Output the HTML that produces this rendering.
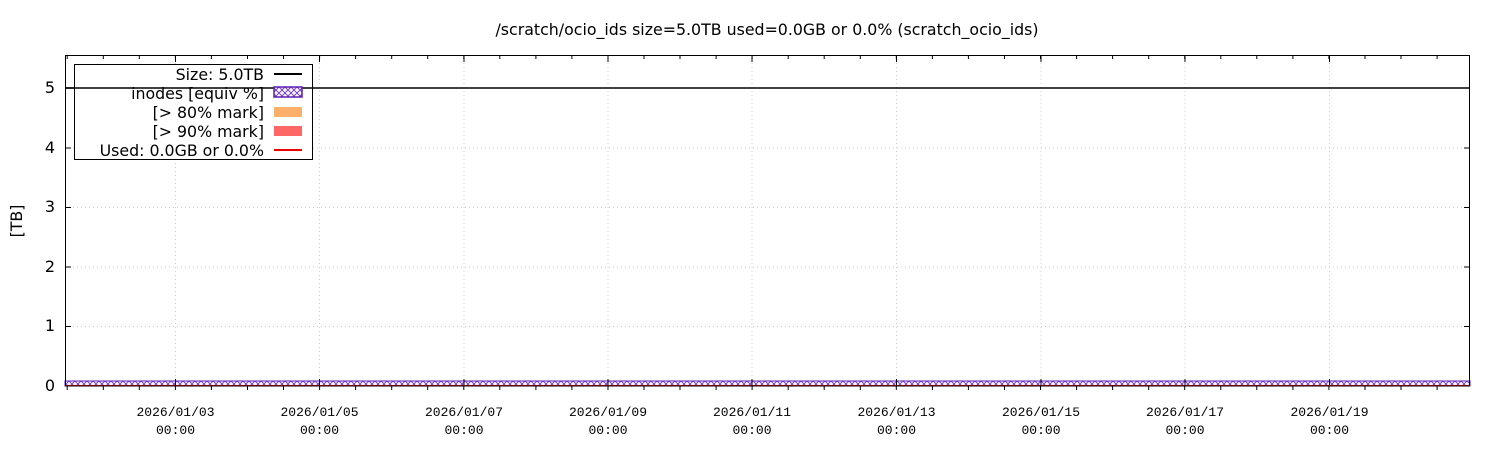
<!DOCTYPE html>
<html><head><meta charset="utf-8"><style>
body{margin:0;background:#fff;}
.s{font-family:"DejaVu Sans",sans-serif;}
.m{font-family:"Liberation Mono",monospace;}
</style></head><body>
<svg width="1500" height="450" viewBox="0 0 1500 450" xmlns="http://www.w3.org/2000/svg">
<defs>
<pattern id="hatch" width="6" height="6" patternUnits="userSpaceOnUse">
<rect width="6" height="6" fill="#fff"/>
<path d="M0,0 L6,6 M6,0 L0,6" stroke="#7b3fd0" stroke-width="1"/>
</pattern>
</defs>
<rect width="1500" height="450" fill="#fff"/>
<text class="s" x="767" y="35" font-size="15.8" text-anchor="middle">/scratch/ocio_ids size=5.0TB used=0.0GB or 0.0% (scratch_ocio_ids)</text>
<g stroke="#ccc" stroke-dasharray="1,3" stroke-width="1">
<line x1="65" x2="1470" y1="326.5" y2="326.5"/><line x1="65" x2="1470" y1="267" y2="267"/>
<line x1="65" x2="1470" y1="207.5" y2="207.5"/><line x1="65" x2="1470" y1="148" y2="148"/>
<line x1="175.5" x2="175.5" y1="55" y2="386"/><line x1="319.5" x2="319.5" y1="55" y2="386"/>
<line x1="464" x2="464" y1="55" y2="386"/><line x1="608" x2="608" y1="55" y2="386"/>
<line x1="752" x2="752" y1="55" y2="386"/><line x1="896.5" x2="896.5" y1="55" y2="386"/>
<line x1="1041" x2="1041" y1="55" y2="386"/><line x1="1185" x2="1185" y1="55" y2="386"/>
<line x1="1329.5" x2="1329.5" y1="55" y2="386"/>
</g>
<rect x="65" y="381" width="1405" height="5" fill="url(#hatch)" stroke="#5a1fb0" stroke-width="1"/>
<line x1="65" x2="1470" y1="385.5" y2="385.5" stroke="#e00" stroke-width="1"/>
<line x1="65" x2="1470" y1="88" y2="88" stroke="#000" stroke-width="1.6"/>
<rect x="65.5" y="55.5" width="1404" height="330.5" fill="none" stroke="#000" stroke-width="1"/>
<g stroke="#000" stroke-width="1">
<path d="M65,326.5h6M65,267h6M65,207.5h6M65,148h6M65,88h6M1470,326.5h-6M1470,267h-6M1470,207.5h-6M1470,148h-6M1470,88h-6"/>
<path d="M175.5,386v-7M319.5,386v-7M464,386v-7M608,386v-7M752,386v-7M896.5,386v-7M1041,386v-7M1185,386v-7M1329.5,386v-7M175.5,55v7M319.5,55v7M464,55v7M608,55v7M752,55v7M896.5,55v7M1041,55v7M1185,55v7M1329.5,55v7"/>
<path id="minor" d=""/>
</g>
<script>
var d="";for(var x=67.2;x<1470;x+=36.05){d+="M"+x.toFixed(1)+",386v4M"+x.toFixed(1)+",55v4";}
document.getElementById("minor").setAttribute("d",d);
</script>
<g font-size="16" text-anchor="end" class="s">
<text x="55" y="391">0</text><text x="55" y="331">1</text><text x="55" y="272">2</text>
<text x="55" y="212">3</text><text x="55" y="153">4</text><text x="55" y="93">5</text>
</g>
<text class="s" transform="translate(22,221) rotate(-90)" font-size="15.8" text-anchor="middle">[TB]</text>
<g font-size="13" text-anchor="middle" class="m">
<text x="175.5" y="416">2026/01/03</text><text x="175.5" y="434">00:00</text>
<text x="319.5" y="416">2026/01/05</text><text x="319.5" y="434">00:00</text>
<text x="464" y="416">2026/01/07</text><text x="464" y="434">00:00</text>
<text x="608" y="416">2026/01/09</text><text x="608" y="434">00:00</text>
<text x="752" y="416">2026/01/11</text><text x="752" y="434">00:00</text>
<text x="896.5" y="416">2026/01/13</text><text x="896.5" y="434">00:00</text>
<text x="1041" y="416">2026/01/15</text><text x="1041" y="434">00:00</text>
<text x="1185" y="416">2026/01/17</text><text x="1185" y="434">00:00</text>
<text x="1329.5" y="416">2026/01/19</text><text x="1329.5" y="434">00:00</text>
</g>
<rect x="74.5" y="64.5" width="238" height="95" fill="#fff" stroke="#000" stroke-width="1"/>
<line x1="65" x2="312" y1="88" y2="88" stroke="#000" stroke-width="1.6"/>
<g font-size="15.8" text-anchor="end" class="s">
<text x="264" y="80">Size: 5.0TB</text>
<text x="264" y="99">inodes [equiv %]</text>
<text x="264" y="118">[&gt; 80% mark]</text>
<text x="264" y="137">[&gt; 90% mark]</text>
<text x="264" y="156">Used: 0.0GB or 0.0%</text>
</g>
<line x1="274" x2="302" y1="74" y2="74" stroke="#000" stroke-width="2"/>
<rect x="274" y="87" width="28" height="10" fill="url(#hatch)" stroke="#5a1fb0" stroke-width="1.5"/>
<rect x="274" y="107" width="28" height="10" fill="#fdb06a"/>
<rect x="274" y="126" width="28" height="10" fill="#ff6666"/>
<line x1="274" x2="302" y1="150" y2="150" stroke="#e00" stroke-width="2"/>
</svg>
</body></html>
